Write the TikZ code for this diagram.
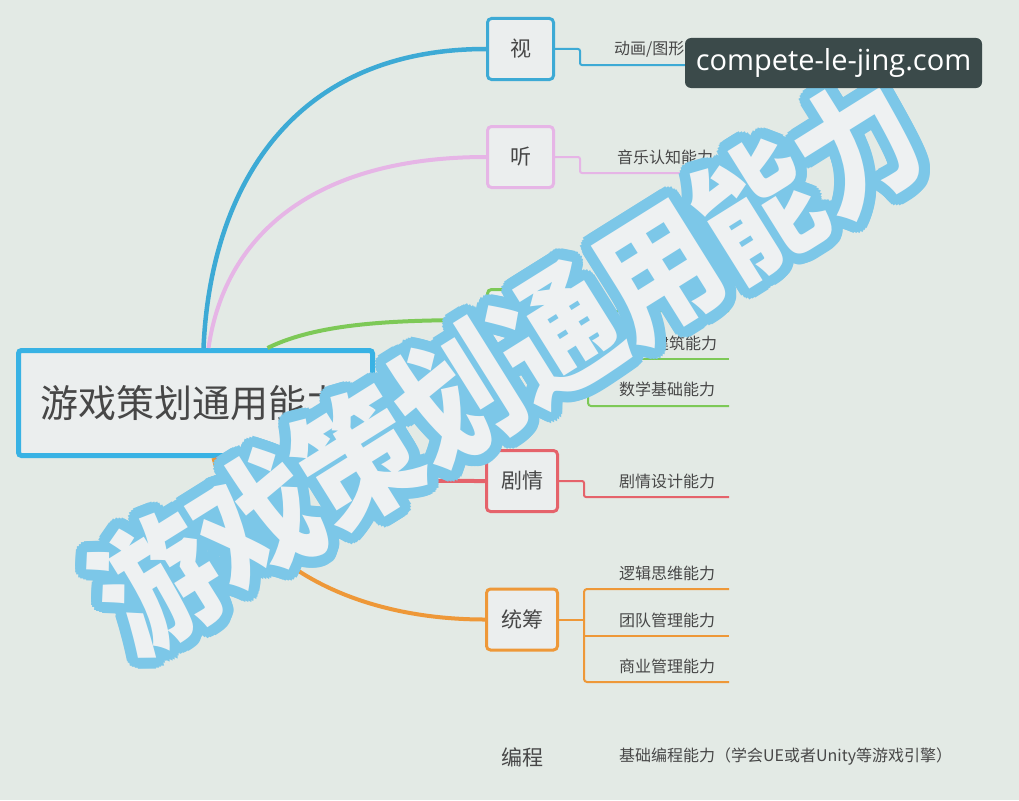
\documentclass[tikz,border=0pt]{standalone}
\usepackage{fontspec}
\usepackage{graphicx}
\setmainfont{Noto Sans CJK SC}
\newfontfamily\wmfont{Noto Sans CJK SC Black}
\newfontfamily\urlfont{Open Sans}
\usetikzlibrary{positioning}
\definecolor{bgcol}{HTML}{E3EAE5}
\definecolor{boxfill}{HTML}{EBEEEE}
\definecolor{txtcol}{HTML}{474747}
\definecolor{cblue}{HTML}{3DAAD5}
\definecolor{rootblue}{HTML}{38B2E4}
\definecolor{cpink}{HTML}{E6B5E6}
\definecolor{cgreen}{HTML}{7DC957}
\definecolor{cred}{HTML}{E5636B}
\definecolor{corange}{HTML}{EE9838}
\definecolor{wmblue}{HTML}{7CC7E8}
\definecolor{wmfill}{HTML}{EEF1F2}
\definecolor{urlbg}{HTML}{3B4A4A}
\newcommand{\wmtext}{\scalebox{1}[1.15]{游戏策划通用能力}}
\tikzset{
  topic/.style={draw,line width=3pt,rounded corners=4pt,fill=boxfill,text=txtcol,
    minimum width=66pt,minimum height=61pt,inner sep=0pt,font=\fontsize{21}{24}\selectfont},
  leaf/.style={anchor=west,inner sep=0pt,text=txtcol,font=\fontsize{16}{18}\selectfont},
  wmark/.style={rotate=32,inner sep=0pt,font=\wmfont\fontsize{118}{120}\selectfont},
}

\begin{document}
\begin{tikzpicture}[x=1pt,y=-1pt]
\path[use as bounding box,fill=bgcol] (0,0) rectangle (1019,800);
% \draw[help lines,step=50] (0,0) grid (1019,800);
\node (root) [draw=rootblue,line width=5pt,rounded corners=3pt,fill=boxfill,text=txtcol,
  minimum width=354pt,minimum height=105pt,text width=311pt,inner xsep=21.5pt,align=left,
  font=\fontsize{38}{40}\selectfont] at (195.5,403) {游戏策划通用能力};
\node (v) [topic,draw=cblue] at (520.5,49) {视};
\node (h) [topic,draw=cpink] at (520.5,157) {听};
\node (g) [topic,draw=cgreen] at (520.5,320) {};
\node (j) [topic,draw=cred,minimum width=71pt] at (522,481) {剧情};
\node (t) [topic,draw=corange,minimum width=71pt] at (522,619.5) {统筹};
\node (b) [inner sep=0pt,text=txtcol,font=\fontsize{21}{24}\selectfont] at (522,757) {编程};
%
\node (v1) [leaf] at (614,49) {动画/图形学能力};
\node (h1) [leaf] at (617,157) {音乐认知能力};
\node (g2) [leaf] at (653,343) {建筑能力};
\node (g3) [leaf] at (619,389) {数学基础能力};
\node (j1) [leaf] at (619,481) {剧情设计能力};
\node (t1) [leaf] at (619,573) {逻辑思维能力};
\node (t2) [leaf] at (619,620) {团队管理能力};
\node (t3) [leaf] at (619,666) {商业管理能力};
\node (b1) [leaf] at (619,757) {基础编程能力（学会UE或者Unity等游戏引擎）};
%
\coordinate (v1s) at (580,65);  \coordinate (v1e) at (729,65);
\coordinate (h1s) at (580,173); \coordinate (h1e) at (729,173);
\coordinate (g1s) at (588,311); \coordinate (g1e) at (729,311);
\coordinate (g2s) at (588,359); \coordinate (g2e) at (729,359);
\coordinate (g3s) at (588,406); \coordinate (g3e) at (729,406);
\coordinate (j1s) at (584,497); \coordinate (j1e) at (729,497);
\coordinate (t1s) at (584,589); \coordinate (t1e) at (729,589);
\coordinate (t2s) at (584,636); \coordinate (t2e) at (729,636);
\coordinate (t3s) at (584,682); \coordinate (t3e) at (729,682);
%
\draw[cblue,line width=4.5pt] ([xshift=8]root.north) .. controls +(7,-158) and +(-196,0) .. (v.west);
\draw[cpink,line width=4pt] ([xshift=13]root.north) .. controls +(17,-118) and +(-166,0) .. (h.west);
\draw[cgreen,line width=4pt] ([xshift=72]root.north) .. controls +(53,-26) and +(-86,0) .. (g.west);
\draw[cred,line width=4pt] ([xshift=20]root.south) .. controls +(25,20) and +(-140,0) .. (j.west);
\draw[corange,line width=4pt] ([xshift=18]root.south) .. controls +(27,102) and +(-136,0) .. (t.west);
%
\draw[cblue,line width=2pt,rounded corners=2pt] (v.east) -| (v1s) -- (v1e);
\draw[cpink,line width=2pt,rounded corners=2pt] (h.east) -| (h1s) -- (h1e);
\draw[cgreen,line width=2pt] (g.east) -- (g.east -| g1s);
\draw[cgreen,line width=2pt,rounded corners=3pt] (g1e) -- (g1s) -- (g3s) -- (g3e);
\draw[cgreen,line width=2pt] (g2s) -- (g2e);
\draw[cred,line width=2pt,rounded corners=2pt] (j.east) -| (j1s) -- (j1e);
\draw[corange,line width=2pt] (t.east) -- (t.east -| t1s);
\draw[corange,line width=2pt,rounded corners=3pt] (t1e) -- (t1s) -- (t3s) -- (t3e);
\draw[corange,line width=2pt] (t2s) -- (t2e);
%
\foreach \a in {0,15,...,345}
  \node (wm\a) [wmark,text=wmblue] at ({507+11*cos(\a)},{364+11*sin(\a)}) {\wmtext};
\node (wm) [wmark,text=wmfill] at (507,364) {\wmtext};
%
\node (url) [fill=urlbg,rounded corners=6pt,text=white,inner sep=0pt,minimum width=297pt,
  minimum height=50pt,font=\urlfont\fontsize{29}{30}\selectfont] at (833.5,63) {compete-le-jing.com};
\end{tikzpicture}
\end{document}
